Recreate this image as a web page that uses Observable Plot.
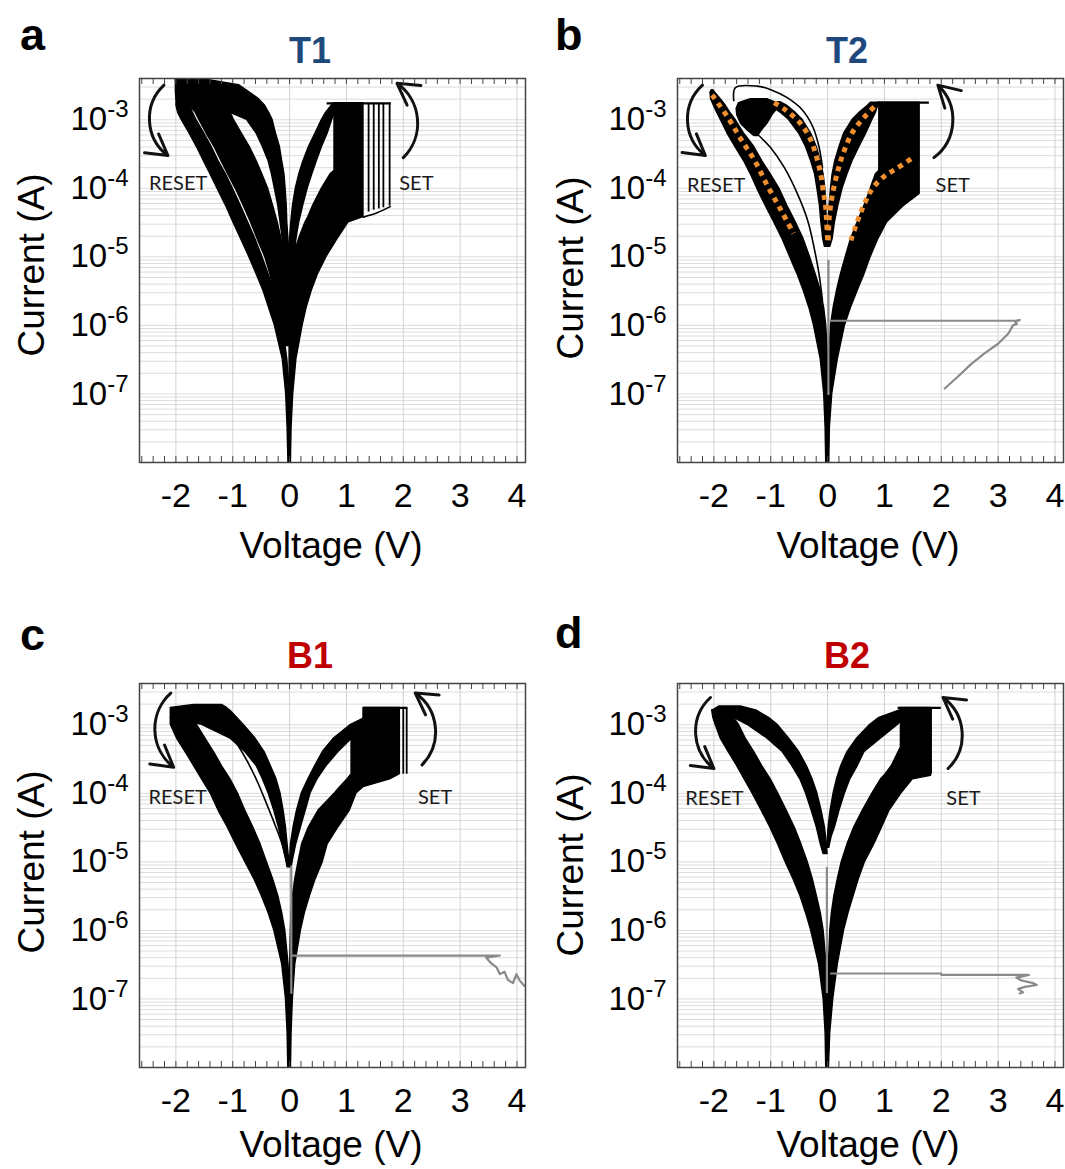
<!DOCTYPE html>
<html><head><meta charset="utf-8">
<script src="https://cdn.jsdelivr.net/npm/d3@7"></script>
<script src="https://cdn.jsdelivr.net/npm/@observablehq/plot@0.6"></script>
<style>
body{margin:0;background:#fff;}
#root{position:relative;width:1065px;height:1169px;overflow:hidden;background:#fff;}
.panel{position:absolute;}
#overlay{position:absolute;left:0;top:0;pointer-events:none;}
</style></head><body><div id="root"></div>
<script>
// ---------- text content ----------
const panelLetters = ["a", "b", "c", "d"];
const panelTitles = ["T1", "T2", "B1", "B2"];
const xAxisTitle = "Voltage (V)";
const yAxisTitle = "Current (A)";
const sweepLabels = ["RESET", "SET"];
const voltageTicks = [-2, -1, 0, 1, 2, 3, 4];
const currentTicks = [1e-7, 1e-6, 1e-5, 1e-4, 1e-3];
const voltageDomain = [-2.64, 4.15];
const currentDomain = [1e-8, 4e-3];

// ---------- panel a (T1): bands, rows = [current A, left V, right V] ----------
const t1BandOuterReset = [[3.9e-3,-2.0,-1.77],[2.5e-3,-1.99,-1.77],[1.6e-3,-1.99,-1.75],[1.26e-3,-1.96,-1.70],[1.0e-3,-1.90,-1.64],[6.3e-4,-1.76,-1.50],[4.0e-4,-1.63,-1.37],[2.5e-4,-1.51,-1.25],[1.6e-4,-1.39,-1.12],[1.0e-4,-1.27,-1.00],[5.6e-5,-1.12,-0.86],[3.2e-5,-0.99,-0.73],[1.8e-5,-0.85,-0.60],[1.0e-5,-0.71,-0.48],[5.6e-6,-0.58,-0.37],[3.2e-6,-0.46,-0.27],[1.8e-6,-0.36,-0.19],[1.0e-6,-0.26,-0.12],[3.2e-7,-0.12,-0.04],[1.0e-7,-0.06,0.006],[3.2e-8,-0.035,0.018],[1.0e-8,-0.02,0.023]];
const t1BandMidReset = [[1.6e-3,-1.75,-1.3],[1.26e-3,-1.65,-1.04],[1.0e-3,-1.59,-0.98],[6.3e-4,-1.46,-0.84],[4.0e-4,-1.32,-0.70],[2.5e-4,-1.20,-0.58],[1.6e-4,-1.08,-0.48],[1.0e-4,-0.95,-0.38],[5.6e-5,-0.81,-0.29],[3.2e-5,-0.68,-0.21],[1.8e-5,-0.56,-0.14],[1.0e-5,-0.43,-0.07],[5.6e-6,-0.34,0.0],[3.2e-6,-0.27,0.0],[1.8e-6,-0.19,0.0],[1.0e-6,-0.12,0.0],[5.0e-7,-0.07,0.0]];
const t1BandArchReset = [[3.9e-3,-2.0,-1.62],[3.8e-3,-2.0,-1.44],[3.2e-3,-2.0,-0.89],[2.5e-3,-2.0,-0.70],[2.0e-3,-1.99,-0.54],[1.6e-3,-1.85,-0.43],[1.26e-3,-1.04,-0.36],[1.0e-3,-0.75,-0.30],[6.3e-4,-0.58,-0.24],[4.0e-4,-0.47,-0.17],[2.5e-4,-0.37,-0.13],[1.6e-4,-0.31,-0.09],[1.0e-4,-0.26,-0.07],[5.6e-5,-0.20,-0.05],[3.2e-5,-0.16,-0.04],[1.8e-5,-0.12,-0.02],[1.0e-5,-0.08,0.0],[6.3e-6,-0.06,0.0]];
const t1BandSetInner = [[1.74e-3,0.78,0.84],[1.6e-3,0.74,0.84],[1.26e-3,0.64,0.80],[1.0e-3,0.57,0.75],[6.3e-4,0.455,0.67],[4.0e-4,0.34,0.57],[2.5e-4,0.245,0.48],[1.6e-4,0.17,0.40],[1.0e-4,0.11,0.32],[5.6e-5,0.06,0.24],[3.2e-5,0.03,0.17],[1.8e-5,0.006,0.12],[1.0e-5,-0.006,0.09],[6.3e-6,-0.012,0.06]];
const t1BandSetOuter = [[1.74e-3,0.79,1.30],[1.8e-4,0.79,1.30],[1.6e-4,0.72,1.30],[1.0e-4,0.57,1.30],[5.6e-5,0.415,1.30],[3.8e-5,0.33,1.30],[3.2e-5,0.28,1.04],[1.8e-5,0.164,0.84],[1.0e-5,0.07,0.65],[5.6e-6,0.0,0.50],[3.2e-6,0.0,0.39],[1.8e-6,0.0,0.30],[1.0e-6,0.0,0.23],[3.2e-7,0.0,0.12],[1.0e-7,0.0,0.064],[3.2e-8,0.0,0.035],[1.0e-8,0.0,0.023]];
// [V, bottom current, top current]
const t1SetSwitchLines = [[1.39,4.5e-5,1.74e-3],[1.48,4.8e-5,1.74e-3],[1.57,5.0e-5,1.74e-3],[1.65,5.2e-5,1.74e-3],[1.76,5.5e-5,1.74e-3]];
// [V start, V end, current]
const t1Compliance = [[0.66,1.79,1.74e-3]];
const t1ThinCurves = [[[1.30,3.8e-5],[1.54,4.4e-5],[1.77,5.4e-5]]];
const t1Arrows = [[-2.21,3.2e-3,-2.14,3.0e-4],[2.0,2.8e-4,1.89,3.4e-3]];
const t1LabelPos = [[-1.96,1.17e-4],[2.23,1.17e-4]];

// ---------- panel b (T2) ----------
const t2BandOuterReset = [[2.7e-3,-2.04,-2.01],[2.5e-3,-2.06,-1.98],[2.0e-3,-2.05,-1.88],[1.6e-3,-2.0,-1.79],[1.26e-3,-1.94,-1.71],[1.0e-3,-1.88,-1.62],[6.3e-4,-1.76,-1.47],[4.0e-4,-1.62,-1.29],[2.5e-4,-1.47,-1.15],[1.6e-4,-1.35,-1.0],[1.0e-4,-1.24,-0.85],[5.6e-5,-1.09,-0.71],[3.2e-5,-0.94,-0.56],[1.8e-5,-0.79,-0.42],[1.0e-5,-0.66,-0.31],[5.6e-6,-0.53,-0.21],[3.2e-6,-0.42,-0.12],[1.8e-6,-0.32,-0.06],[1.0e-6,-0.24,-0.024],[3.2e-7,-0.12,0.012],[1.0e-7,-0.06,0.024],[3.2e-8,-0.035,0.024],[1.0e-8,-0.024,0.018]];
const t2BandArchReset = [[1.8e-3,-1.03,-0.82],[1.6e-3,-1.0,-0.71],[1.26e-3,-0.82,-0.56],[1.0e-3,-0.68,-0.44],[6.3e-4,-0.50,-0.29],[4.0e-4,-0.38,-0.19],[2.5e-4,-0.29,-0.12],[1.6e-4,-0.22,-0.07],[1.0e-4,-0.18,-0.04],[5.6e-5,-0.135,-0.024],[3.2e-5,-0.11,-0.012],[1.8e-5,-0.076,0],[1.4e-5,-0.047,0]];
const t2BandResetBlob = [[2.0e-3,-1.35,-1.06],[1.74e-3,-1.56,-0.88],[1.45e-3,-1.60,-0.88],[1.17e-3,-1.59,-0.97],[8.7e-4,-1.52,-1.06],[6.9e-4,-1.40,-1.16],[5.8e-4,-1.29,-1.22]];
const t2BandSetInner = [[1.78e-3,0.76,0.91],[1.6e-3,0.71,0.89],[1.26e-3,0.56,0.85],[1.0e-3,0.44,0.79],[6.3e-4,0.29,0.68],[4.0e-4,0.21,0.56],[2.5e-4,0.135,0.44],[1.6e-4,0.088,0.35],[1.0e-4,0.06,0.265],[5.6e-5,0.035,0.19],[3.2e-5,0.018,0.13],[1.8e-5,0.006,0.088],[1.4e-5,0.006,0.047]];
const t2BandSetOuter = [[1.78e-3,0.91,1.62],[1.8e-4,0.91,1.62],[1.6e-4,0.85,1.62],[1.0e-4,0.76,1.62],[8.3e-5,0.73,1.62],[5.6e-5,0.65,1.35],[3.2e-5,0.53,1.05],[1.8e-5,0.41,0.89],[1.0e-5,0.32,0.76],[5.6e-6,0.235,0.65],[3.2e-6,0.165,0.53],[1.8e-6,0.106,0.41],[1.0e-6,0.06,0.306],[3.2e-7,0.024,0.18],[1.0e-7,0.012,0.082],[3.2e-8,0.012,0.04],[1.0e-8,0.006,0.03]];
const t2Compliance = [[0.88,1.79,1.78e-3]];
const t2ThinCurves = [
  [[-1.65,1.9e-3],[-1.62,2.95e-3],[-1.24,3.1e-3],[-1.0,2.75e-3],[-0.71,2.1e-3],[-0.44,1.38e-3],[-0.26,7.9e-4],[-0.15,4.0e-4],[-0.09,2.0e-4]],
  [[-1.21,5.9e-4],[-1.0,3.9e-4],[-0.76,2.0e-4],[-0.53,8.3e-5],[-0.35,3.4e-5],[-0.24,1.4e-5],[-0.15,5.6e-6],[-0.09,2.3e-6]]
];
const t2FittedCurves = [
  [[-2.03,2.3e-3],[-1.76,1.1e-3],[-1.53,5.3e-4],[-1.29,2.6e-4],[-1.06,1.1e-4],[-0.82,4.8e-5],[-0.60,2.2e-5]],
  [[-0.94,1.78e-3],[-0.735,1.38e-3],[-0.50,9.3e-4],[-0.32,5.6e-4],[-0.21,3.2e-4],[-0.12,1.6e-4],[-0.07,8.3e-5],[-0.04,6.0e-5],[-0.018,3.4e-5],[0,1.74e-5]],
  [[0.012,1.74e-5],[0.03,3.8e-5],[0.088,8.3e-5],[0.18,1.8e-4],[0.29,3.5e-4],[0.44,6.6e-4],[0.65,1.1e-3],[0.88,1.74e-3]],
  [[0.41,1.74e-5],[0.53,3.4e-5],[0.65,6.0e-5],[0.79,1.0e-4],[1.0,1.5e-4],[1.24,2.0e-4],[1.47,2.7e-4]]
];
const t2FormingSweep = [[2.06,1.2e-7],[2.29,1.78e-7],[2.53,2.75e-7],[2.76,3.9e-7],[3.0,5.4e-7],[3.18,7.6e-7],[3.26,1.0e-6],[3.33,1.05e-6],[3.30,1.12e-6],[3.38,1.2e-6],[3.30,1.17e-6],[0.05,1.17e-6]];
const t2FormingStem = [[0.015,9.5e-8,8.9e-6]];
const t2Arrows = [[-2.20,3.2e-3,-2.15,3.0e-4],[1.87,2.8e-4,1.94,3.2e-3]];
const t2LabelPos = [[-1.96,1.1e-4],[2.20,1.1e-4]];

// ---------- panel c (B1) ----------
const b1BandOuterReset = [[1.26e-3,-2.09,-1.68],[1.0e-3,-2.09,-1.63],[6.3e-4,-1.98,-1.48],[4.0e-4,-1.83,-1.33],[2.5e-4,-1.68,-1.19],[1.6e-4,-1.54,-1.04],[1.0e-4,-1.39,-0.91],[5.6e-5,-1.25,-0.78],[3.2e-5,-1.09,-0.64],[1.8e-5,-0.94,-0.51],[1.0e-5,-0.78,-0.40],[5.6e-6,-0.62,-0.29],[3.2e-6,-0.49,-0.20],[1.8e-6,-0.37,-0.13],[1.0e-6,-0.27,-0.076],[3.2e-7,-0.13,-0.018],[1.0e-7,-0.064,0.012],[3.2e-8,-0.035,0.023],[1.0e-8,-0.023,0.023]];
const b1BandArchReset = [[1.95e-3,-1.68,-1.19],[1.76e-3,-2.09,-1.10],[1.6e-3,-2.09,-1.04],[1.26e-3,-2.09,-0.92],[1.0e-3,-1.54,-0.81],[6.3e-4,-1.04,-0.60],[4.0e-4,-0.78,-0.44],[2.5e-4,-0.58,-0.33],[1.6e-4,-0.47,-0.23],[1.0e-4,-0.37,-0.16],[5.6e-5,-0.27,-0.105],[3.2e-5,-0.19,-0.064],[1.8e-5,-0.12,-0.035],[1.17e-5,-0.07,-0.012],[8.3e-6,-0.035,0]];
const b1BandSetInner = [[1.5e-3,1.59,1.77],[1.26e-3,1.33,1.65],[1.0e-3,1.08,1.42],[6.3e-4,0.78,1.10],[4.0e-4,0.585,0.86],[2.5e-4,0.45,0.65],[1.6e-4,0.33,0.49],[1.0e-4,0.216,0.37],[5.6e-5,0.13,0.285],[3.2e-5,0.07,0.20],[1.8e-5,0.023,0.117],[1.17e-5,0.012,0.07],[8.3e-6,0.006,0.035]];
const b1BandSetOuter = [[1.76e-3,1.30,1.94],[1.0e-3,1.30,1.94],[6.9e-4,1.09,1.94],[1.9e-4,1.09,1.94],[1.6e-4,1.02,1.77],[1.23e-4,0.89,1.30],[1.0e-4,0.80,1.18],[5.6e-5,0.51,1.06],[3.2e-5,0.34,0.86],[1.8e-5,0.22,0.67],[1.0e-5,0.158,0.585],[5.6e-6,0.10,0.46],[3.2e-6,0.058,0.36],[1.8e-6,0.035,0.27],[1.0e-6,0.023,0.20],[3.2e-7,0.012,0.10],[1.0e-7,0.006,0.058],[3.2e-8,0,0.035],[1.0e-8,0,0.023]];
const b1SetSwitchLines = [[2.0,1.9e-4,1.76e-3],[2.06,1.9e-4,1.76e-3]];
const b1Compliance = [[1.30,2.08,1.76e-3]];
const b1ThinCurves = [[[-1.04,7.4e-4],[-0.92,5.2e-4],[-0.75,3.0e-4],[-0.57,1.5e-4],[-0.40,6.9e-5],[-0.24,3.2e-5],[-0.13,1.8e-5],[-0.06,1.05e-5]]];
const b1FormingSweep = [[0.04,4.3e-7],[3.70,4.3e-7],[3.46,4.0e-7],[3.55,3.3e-7],[3.64,2.9e-7],[3.70,2.3e-7],[3.78,2.5e-7],[3.84,1.9e-7],[3.93,1.7e-7],[3.99,2.3e-7],[4.05,1.85e-7],[4.13,1.55e-7]];
const b1FormingStem = [[0.03,1.17e-7,8.7e-6]];
const b1Arrows = [[-2.09,2.9e-3,-2.04,2.4e-4],[2.33,2.6e-4,2.21,2.9e-3]];
const b1LabelPos = [[-1.97,8.7e-5],[2.56,8.7e-5]];

// ---------- panel d (B2) ----------
const b2BandOuterReset = [[1.62e-3,-2.03,-1.94],[1.26e-3,-2.01,-1.65],[1.0e-3,-1.97,-1.56],[6.3e-4,-1.88,-1.44],[4.0e-4,-1.74,-1.29],[2.5e-4,-1.59,-1.15],[1.6e-4,-1.46,-1.0],[1.0e-4,-1.32,-0.87],[5.6e-5,-1.16,-0.72],[3.2e-5,-1.01,-0.58],[1.8e-5,-0.87,-0.46],[1.0e-5,-0.74,-0.35],[5.6e-6,-0.60,-0.26],[3.2e-6,-0.48,-0.19],[1.8e-6,-0.38,-0.12],[1.0e-6,-0.29,-0.07],[3.2e-7,-0.15,-0.018],[1.0e-7,-0.07,0.012],[3.2e-8,-0.035,0.024],[1.0e-8,-0.024,0.018]];
const b2BandArchReset = [[1.85e-3,-1.90,-1.53],[1.6e-3,-2.03,-1.24],[1.26e-3,-1.65,-1.03],[1.0e-3,-1.41,-0.88],[6.3e-4,-1.06,-0.68],[4.0e-4,-0.79,-0.50],[2.5e-4,-0.62,-0.365],[1.6e-4,-0.48,-0.265],[1.0e-4,-0.38,-0.18],[5.6e-5,-0.28,-0.106],[3.2e-5,-0.19,-0.047],[1.8e-5,-0.12,-0.012],[1.3e-5,-0.07,0]];
const b2BandSetInner = [[1.74e-3,1.41,1.59],[1.6e-3,1.26,1.59],[1.26e-3,0.91,1.35],[1.0e-3,0.75,1.24],[6.3e-4,0.52,0.94],[4.0e-4,0.35,0.65],[2.5e-4,0.24,0.53],[1.6e-4,0.165,0.40],[1.0e-4,0.106,0.306],[5.6e-5,0.053,0.21],[3.2e-5,0.018,0.13],[2.3e-5,0.006,0.07],[1.6e-5,0.0,0.03]];
const b2BandSetOuter = [[1.76e-3,1.29,1.82],[4.7e-4,1.29,1.82],[2.5e-4,1.13,1.82],[1.8e-4,1.0,1.82],[1.6e-4,0.94,1.50],[1.0e-4,0.79,1.30],[5.6e-5,0.62,1.09],[3.2e-5,0.47,0.96],[1.8e-5,0.35,0.82],[1.0e-5,0.25,0.66],[5.6e-6,0.18,0.55],[3.2e-6,0.12,0.46],[1.8e-6,0.076,0.37],[1.0e-6,0.047,0.29],[3.2e-7,0.024,0.18],[1.0e-7,0.012,0.10],[3.2e-8,0.006,0.047],[1.0e-8,0.0,0.024]];
const b2SetSwitchLines = [[1.76,1.9e-4,1.76e-3],[1.82,1.9e-4,1.76e-3]];
const b2Compliance = [[1.24,2.0,1.76e-3]];
const b2FormingSweep = [[0.06,2.35e-7],[2.0,2.35e-7],[2.0,2.24e-7],[3.54,2.24e-7],[3.32,2.05e-7],[3.41,1.86e-7],[3.62,1.7e-7],[3.68,1.6e-7],[3.47,1.5e-7],[3.35,1.4e-7],[3.44,1.25e-7],[3.38,1.2e-7]];
const b2FormingStem = [[-0.012,1.2e-7,8.3e-6]];
const b2Arrows = [[-2.06,2.5e-3,-2.0,2.3e-4],[2.12,2.3e-4,2.03,2.5e-3]];
const b2LabelPos = [[-1.99,8.5e-5],[2.39,8.5e-5]];

// ---------- assembly ----------
const panels = [
  {bands: [t1BandOuterReset, t1BandMidReset, t1BandArchReset, t1BandSetInner, t1BandSetOuter],
   switchLines: t1SetSwitchLines, compliance: t1Compliance, thin: t1ThinCurves, fitted: [],
   forming: [], stems: [], arrows: t1Arrows, labels: t1LabelPos,
   layout: {left: 0, top: 0, width: 532, height: 580, mL: 139, mR: 7, mT: 78, mB: 118},
   text: {letter: [20, 50], title: [310, 63], xt: [331, 558], yt: [44, 265]}, color: "#1F497D"},
  {bands: [t2BandOuterReset, t2BandArchReset, t2BandResetBlob, t2BandSetInner, t2BandSetOuter],
   switchLines: [], compliance: t2Compliance, thin: t2ThinCurves, fitted: t2FittedCurves,
   forming: [t2FormingSweep], stems: t2FormingStem, arrows: t2Arrows, labels: t2LabelPos,
   layout: {left: 533, top: 0, width: 532, height: 580, mL: 144, mR: 2, mT: 78, mB: 118},
   text: {letter: [555, 50], title: [847, 63], xt: [868, 558], yt: [583, 268]}, color: "#1F497D"},
  {bands: [b1BandOuterReset, b1BandArchReset, b1BandSetInner, b1BandSetOuter],
   switchLines: b1SetSwitchLines, compliance: b1Compliance, thin: b1ThinCurves, fitted: [],
   forming: [b1FormingSweep], stems: b1FormingStem, arrows: b1Arrows, labels: b1LabelPos,
   layout: {left: 0, top: 600, width: 532, height: 569, mL: 139, mR: 7, mT: 83, mB: 102},
   text: {letter: [20, 650], title: [310, 668], xt: [331, 1157], yt: [44, 862]}, color: "#C00000"},
  {bands: [b2BandOuterReset, b2BandArchReset, b2BandSetInner, b2BandSetOuter],
   switchLines: b2SetSwitchLines, compliance: b2Compliance, thin: [], fitted: [],
   forming: [b2FormingSweep], stems: b2FormingStem, arrows: b2Arrows, labels: b2LabelPos,
   layout: {left: 533, top: 600, width: 532, height: 569, mL: 144, mR: 2, mT: 83, mB: 102},
   text: {letter: [555, 648], title: [847, 668], xt: [868, 1157], yt: [583, 865]}, color: "#C00000"}
];

const xMinor = d3.range(-2.6, 4.11, 0.2).map(v => Math.round(v * 10) / 10);
const root = document.getElementById("root");
const FONT = "'Liberation Sans', Arial, Helvetica, sans-serif";

function toPoints(curves) {
  return curves.flatMap((c, i) => c.map(([V, I]) => ({id: i, V, I})));
}

panels.forEach((p, idx) => {
  const L = p.layout;
  const frameH = L.height - L.mT - L.mB;
  const bandRows = p.bands.flatMap((rows, b) => rows.map(([I, v1, v2]) => ({band: b, I, v1, v2})));
  const sw = p.switchLines.map(([V, lo, hi]) => ({V, lo, hi}));
  const comp = p.compliance.map(([v1, v2, I]) => ({v1, v2, I}));
  const stems = p.stems.map(([V, lo, hi]) => ({V, lo, hi}));
  const labels = p.labels.map(([V, I], k) => ({V, I, t: sweepLabels[k]}));
  const plot = Plot.plot({
    width: L.width, height: L.height,
    marginLeft: L.mL, marginRight: L.mR, marginTop: L.mT, marginBottom: L.mB,
    x: {domain: voltageDomain},
    y: {type: "log", domain: currentDomain},
    style: {fontFamily: FONT, color: "#000", background: "transparent", overflow: "visible"},
    marks: [
      Plot.gridY({ticks: 40, stroke: "#dcdcdc", strokeOpacity: 1, strokeWidth: 1}),
      Plot.gridX({ticks: voltageTicks, stroke: "#d2d2d2", strokeOpacity: 1, strokeWidth: 1}),
      Plot.areaX(bandRows, {y: "I", x1: "v1", x2: "v2", z: "band", fill: "#000", stroke: "#000", strokeWidth: 1.4, strokeLinejoin: "round", curve: "linear"}),
      Plot.line(toPoints(p.thin), {x: "V", y: "I", z: "id", stroke: "#000", strokeWidth: 1.6, curve: "catmull-rom"}),
      Plot.ruleX(sw, {x: "V", y1: "lo", y2: "hi", stroke: "#000", strokeWidth: 1.8}),
      Plot.ruleY(comp, {y: "I", x1: "v1", x2: "v2", stroke: "#000", strokeWidth: 2.2}),
      Plot.ruleX(stems, {x: "V", y1: "lo", y2: "hi", stroke: "#8a8a8a", strokeWidth: 2.2}),
      Plot.line(toPoints(p.forming), {x: "V", y: "I", z: "id", stroke: "#8a8a8a", strokeWidth: 2.2, curve: "linear"}),
      Plot.line(toPoints(p.fitted), {x: "V", y: "I", z: "id", stroke: "#EE8E2F", strokeWidth: 5, strokeDasharray: "5,5", strokeLinecap: "butt", curve: "catmull-rom"}),
      Plot.arrow(p.arrows, {x1: d => d[0], y1: d => d[1], x2: d => d[2], y2: d => d[3], bend: -50, stroke: "#111", strokeWidth: 3, headLength: 12}),
      Plot.text(labels, {x: "V", y: "I", text: "t", fontSize: 20, fontFamily: "Lato, 'Open Sans', sans-serif", fill: "#1a1a1a"}),
      Plot.frame({stroke: "#444", strokeWidth: 1.5}),
      Plot.tickX(xMinor, {x: d => d, insetTop: frameH - 6, stroke: "#444"}),
      Plot.tickX(xMinor, {x: d => d, insetBottom: frameH - 6, stroke: "#444"}),
      Plot.axisX({ticks: voltageTicks, tickSize: 0, tickPadding: 20, fontSize: 34, tickFormat: d => String(d), label: null}),
      Plot.axisY({ticks: currentTicks, tickSize: 0, tickPadding: 11, fontSize: 33, tickFormat: d => "10^" + Math.round(Math.log10(d)), label: null})
    ]
  });
  // superscript exponents on the current tick labels
  d3.select(plot).selectAll('g[aria-label="y-axis tick label"] text').each(function () {
    const s = this.textContent;
    const parts = s.split("^");
    if (parts.length < 2) return;
    const t = d3.select(this);
    t.text(null);
    t.append("tspan").text(parts[0]);
    t.append("tspan").attr("dy", -13).attr("font-size", 24).text(parts[1]);
  });
  const holder = document.createElement("div");
  holder.className = "panel";
  holder.style.left = L.left + "px";
  holder.style.top = L.top + "px";
  holder.appendChild(plot);
  root.appendChild(holder);
});

// overlay texts: panel letters, titles, axis titles
const ov = d3.create("svg").attr("id", "overlay").attr("width", 1065).attr("height", 1169)
  .attr("font-family", FONT);
panels.forEach((p, i) => {
  const T = p.text;
  ov.append("text").attr("x", T.letter[0]).attr("y", T.letter[1]).attr("font-size", 45).attr("font-weight", "bold").attr("fill", "#000").text(panelLetters[i]);
  ov.append("text").attr("x", T.title[0]).attr("y", T.title[1]).attr("font-size", 36).attr("font-weight", "bold").attr("text-anchor", "middle").attr("fill", p.color).text(panelTitles[i]);
  ov.append("text").attr("x", T.xt[0]).attr("y", T.xt[1]).attr("font-size", 37).attr("text-anchor", "middle").attr("fill", "#000").text(xAxisTitle);
  ov.append("text").attr("transform", `translate(${T.yt[0]},${T.yt[1]}) rotate(-90)`).attr("font-size", 37).attr("text-anchor", "middle").attr("fill", "#000").text(yAxisTitle);
});
root.appendChild(ov.node());
</script></body></html>
